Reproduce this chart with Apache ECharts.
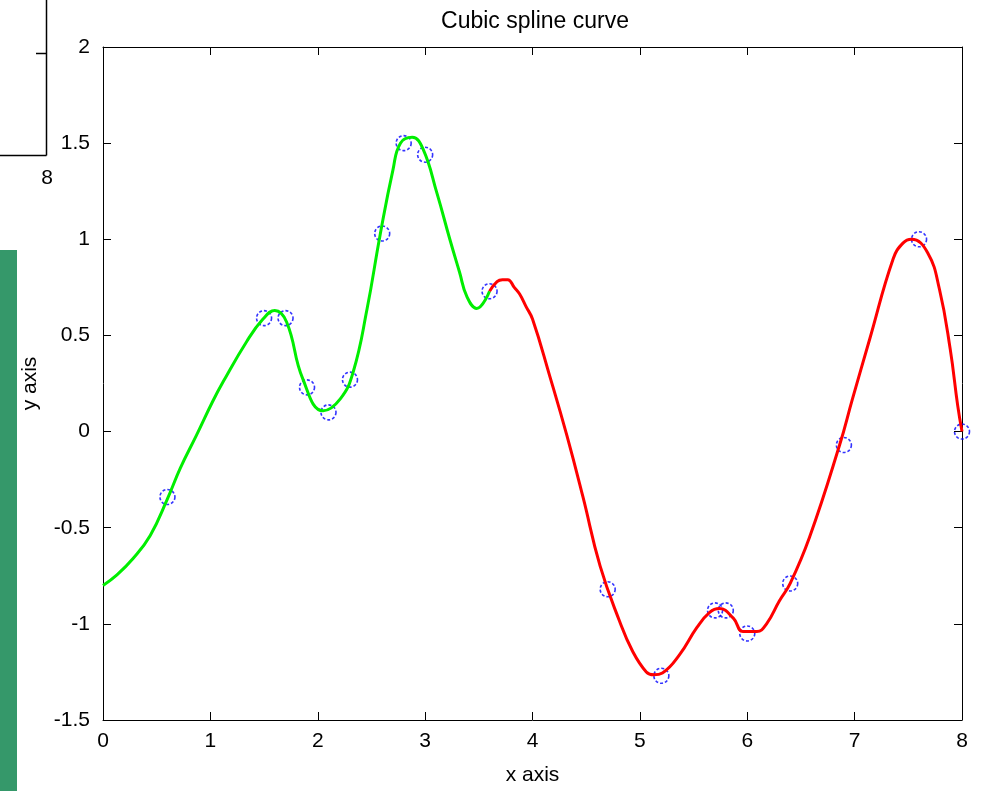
<!DOCTYPE html>
<html><head><meta charset="utf-8">
<script src="https://cdn.jsdelivr.net/npm/echarts@6/dist/echarts.min.js"></script>
<style>html,body{margin:0;padding:0;background:#fff}#c{width:984px;height:791px}</style>
</head><body><div id="c"></div>
<script>
// Data points (blue circles)
const pointX = [0.6, 1.5, 1.7, 1.9, 2.1, 2.3, 2.6, 2.8, 3.0, 3.6, 4.7, 5.2, 5.7, 5.8, 6.0, 6.4, 6.9, 7.6, 8.0];
const pointY = [-0.34, 0.59, 0.59, 0.23, 0.10, 0.27, 1.03, 1.50, 1.44, 0.73, -0.82, -1.27, -0.93, -0.93, -1.05, -0.79, -0.07, 1.00, 0.00];
// Green spline segment (traced)
const greenX = [0, 0.13, 0.28, 0.44, 0.60, 0.72, 0.87, 1.02, 1.12, 1.34, 1.49, 1.60, 1.71, 1.86, 2.05, 2.21, 2.33, 2.46, 2.58, 2.70, 2.77, 2.88, 2.98, 3.11, 3.23, 3.32, 3.39, 3.48, 3.6];
const greenY = [-0.80, -0.745, -0.66, -0.54, -0.35, -0.19, -0.02, 0.155, 0.26, 0.47, 0.585, 0.63, 0.57, 0.275, 0.108, 0.17, 0.31, 0.64, 1.02, 1.36, 1.50, 1.53, 1.47, 1.24, 1.00, 0.83, 0.70, 0.64, 0.73];
// Red spline segment (traced)
const redX = [3.6, 3.67, 3.72, 3.77, 3.83, 3.88, 3.94, 4.00, 4.16, 4.32, 4.47, 4.63, 4.81, 4.93, 5.06, 5.13, 5.21, 5.37, 5.53, 5.65, 5.74, 5.87, 5.96, 6.09, 6.18, 6.30, 6.40, 6.58, 6.86, 6.98, 7.14, 7.36, 7.45, 7.53, 7.68, 7.79, 7.89, 7.96, 8.0];
const redY = [0.73, 0.78, 0.79, 0.79, 0.75, 0.715, 0.65, 0.585, 0.29, -0.02, -0.34, -0.70, -0.985, -1.14, -1.25, -1.265, -1.255, -1.16, -1.02, -0.94, -0.92, -0.97, -1.04, -1.04, -1.0, -0.88, -0.79, -0.55, -0.07, 0.17, 0.48, 0.90, 0.98, 1.00, 0.93, 0.74, 0.43, 0.135, 0.0];
const xTicks = [0, 8, 1];
const yTicks = [-1.5, 2, 0.5];

const zip = (a, b) => a.map((v, i) => [v, b[i]]);
const FONT = 'Liberation Sans';
const axisCommon = {
  axisLine: { show: true, onZero: false, lineStyle: { color: '#000', width: 1 } },
  axisTick: { show: true, inside: true, length: 8, lineStyle: { color: '#000' } },
  splitLine: { show: false }
};
const chart = echarts.init(document.getElementById('c'));
chart.setOption({
  animation: false,
  backgroundColor: '#fff',
  title: {
    text: 'Cubic spline curve', left: 530, top: 5, textAlign: 'center',
    textStyle: { fontFamily: FONT, fontSize: 23, fontWeight: 'normal', color: '#000' }
  },
  grid: { left: 103, right: 22, top: 47, bottom: 68 },
  xAxis: [
    Object.assign({ type: 'value', min: xTicks[0], max: xTicks[1], interval: xTicks[2], position: 'bottom',
      name: 'x axis', nameLocation: 'middle', nameGap: 45,
      nameTextStyle: { fontFamily: FONT, fontSize: 21, color: '#000' },
      axisLabel: { fontFamily: FONT, fontSize: 21, color: '#000', margin: 11 } }, axisCommon),
    Object.assign({ type: 'value', min: xTicks[0], max: xTicks[1], interval: xTicks[2], position: 'top',
      axisLabel: { show: false } }, axisCommon)
  ],
  yAxis: [
    Object.assign({ type: 'value', min: yTicks[0], max: yTicks[1], interval: yTicks[2], position: 'left',
      name: 'y axis', nameLocation: 'middle', nameGap: 62, nameRotate: 90,
      nameTextStyle: { fontFamily: FONT, fontSize: 21, color: '#000' },
      axisLabel: { fontFamily: FONT, fontSize: 21, color: '#000', margin: 13 } }, axisCommon),
    Object.assign({ type: 'value', min: yTicks[0], max: yTicks[1], interval: yTicks[2], position: 'right',
      axisLabel: { show: false } }, axisCommon)
  ],
  graphic: [
    { type: 'rect', shape: { x: 0, y: 250, width: 17, height: 541 }, style: { fill: '#35986a' } },
    { type: 'line', shape: { x1: 46.5, y1: 0, x2: 46.5, y2: 155.5 }, style: { stroke: '#000', lineWidth: 1.5 } },
    { type: 'line', shape: { x1: 0, y1: 155.5, x2: 46.5, y2: 155.5 }, style: { stroke: '#000', lineWidth: 1.5 } },
    { type: 'line', shape: { x1: 36, y1: 53.5, x2: 46.5, y2: 53.5 }, style: { stroke: '#000', lineWidth: 1.5 } },
    { type: 'text', x: 47, y: 168, style: { text: '8', font: '21px Liberation Sans', fill: '#000', textAlign: 'center' } }
  ],
  series: [
    { type: 'scatter', data: zip(pointX, pointY), symbol: 'circle', symbolSize: 15,
      itemStyle: { color: 'transparent', borderColor: '#0000ff', borderWidth: 1.6, borderType: [3, 2] }, z: 2 },
    { type: 'line', data: zip(greenX, greenY), smooth: 0.45, showSymbol: false,
      lineStyle: { color: '#00ee00', width: 3 }, z: 3 },
    { type: 'line', data: zip(redX, redY), smooth: 0.45, showSymbol: false,
      lineStyle: { color: '#ff0000', width: 3 }, z: 3 }
  ]
});
</script></body></html>
